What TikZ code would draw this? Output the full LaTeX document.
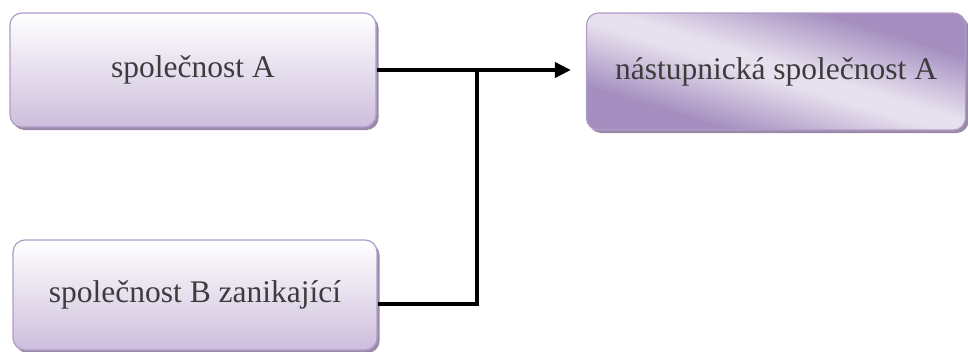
\documentclass[tikz,border=0pt]{standalone}
\usepackage{fontspec}
\setmainfont{Liberation Serif}
\usetikzlibrary{arrows.meta,calc,shadows}
\definecolor{bordc}{HTML}{B09CC8}
\definecolor{fillbot}{HTML}{CDBEDC}
\definecolor{cdark}{HTML}{A68FC0}
\definecolor{clight}{HTML}{E7E1EF}
\definecolor{txtc}{HTML}{3C3C3C}
\definecolor{shadc}{HTML}{9A8AA8}
\tikzset{
  boxbase/.style={rounded corners=12pt, draw=bordc, line width=1.2pt,
    text=txtc, font=\fontsize{31.5}{36}\selectfont, inner sep=0pt},
  lightbox/.style={boxbase, top color=white, bottom color=fillbot,
    drop shadow={shadow xshift=2.5pt, shadow yshift=-3pt, fill=shadc, opacity=1}},
  darkbox/.style={boxbase},
  conn/.style={line width=3.8pt, black}
}
\begin{document}
\begin{tikzpicture}[x=1pt,y=-1pt]
\useasboundingbox (0,0) rectangle (968,351);
\node[lightbox, minimum width=366pt, minimum height=114pt] (A) at (193,70) {společnost A};
\node[lightbox, minimum width=364pt, minimum height=110pt] (B) at (195,295) {\raisebox{-8pt}{společnost B zanikající}};
% shadow and diagonal gradient of the successor box
\fill[shadc, rounded corners=12pt] (589,16) rectangle (968.5,133);
\begin{scope}
  \clip[rounded corners=12pt] (586.5,13) rectangle (965.5,130);
  \fill[clight] (586.5,13) rectangle (965.5,130);
  \foreach \j in {0,...,31}{
    \pgfmathsetmacro\va{\j*4}
    \pgfmathsetmacro\vb{\j*4+4.6}
    \pgfmathsetmacro\p{min(100,max(0,(\j*4+2-8)/62*100))}
    \pgfmathsetmacro\xa{0.295*\va}\pgfmathsetmacro\ya{0.956*\va}
    \pgfmathsetmacro\xb{0.295*\vb}\pgfmathsetmacro\yb{0.956*\vb}
    \fill[cdark!\p!clight]
      (776-287-\xa, 71.5-88.5+\ya) -- (776+287-\xa, 71.5+88.5+\ya) --
      (776+287-\xb, 71.5+88.5+\yb) -- (776-287-\xb, 71.5-88.5+\yb) -- cycle;
    \fill[cdark!\p!clight]
      (776-287+\xa, 71.5-88.5-\ya) -- (776+287+\xa, 71.5+88.5-\ya) --
      (776+287+\xb, 71.5+88.5-\yb) -- (776-287+\xb, 71.5-88.5-\yb) -- cycle;
  }
\end{scope}
\node[darkbox, minimum width=379pt, minimum height=117pt] (C) at (776,71.5) {nástupnická společnost A};
\coordinate (J) at (477,70);
\draw[conn, -{Triangle[length=16pt,width=15pt]}, shorten >=15pt] (A.east) -- (A.east -| C.west);
\draw[conn] ([yshift=-9pt]B.east) -| (J);
\end{tikzpicture}
\end{document}
